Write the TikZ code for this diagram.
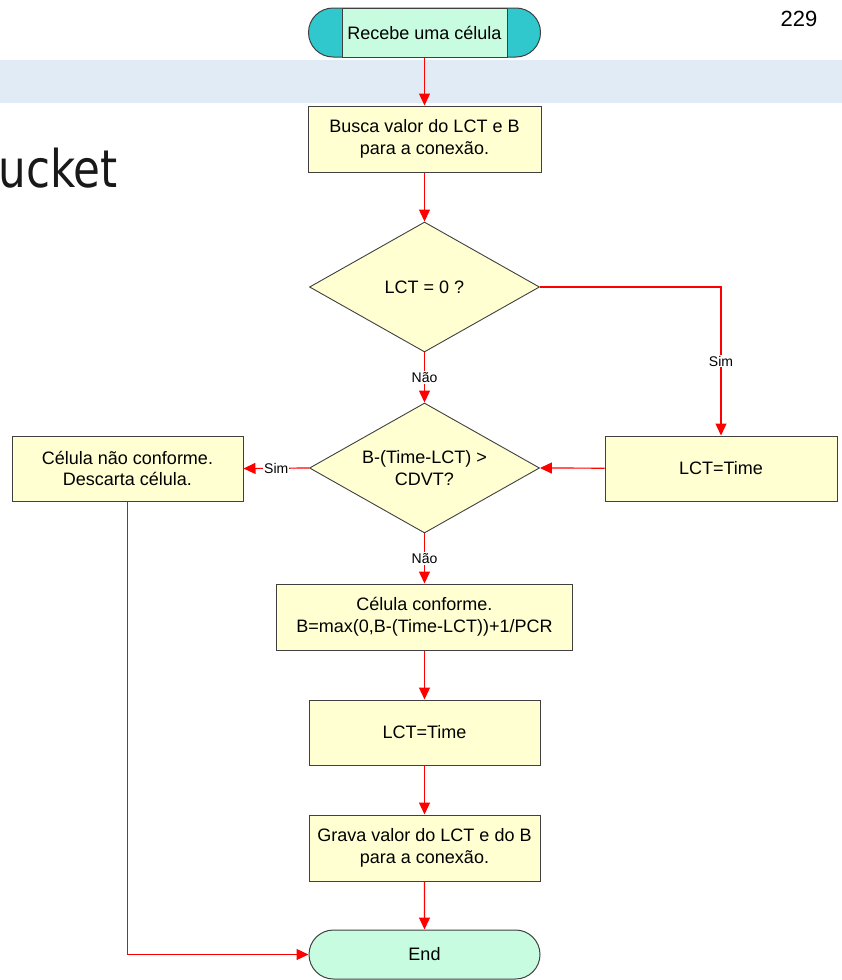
\documentclass[tikz,border=0pt]{standalone}
\usepackage{fontspec}
\setmainfont{Liberation Sans}
\newfontfamily\titlefont{DejaVu Sans}
\usetikzlibrary{shapes.geometric,shapes.misc,arrows.meta}
\definecolor{boxfill}{HTML}{FFFFD2}
\definecolor{bordercol}{HTML}{404040}
\definecolor{capteal}{HTML}{30C8CC}
\definecolor{mint}{HTML}{C8FCE0}
\definecolor{bandcol}{HTML}{E1EBF6}
\definecolor{flow}{HTML}{FF0000}
\begin{document}
\begin{tikzpicture}[x=1pt,y=-1pt,
  every node/.style={font=\fontsize{18}{21.6}\selectfont},
  procbox/.style={rectangle, draw=bordercol, line width=1pt, fill=boxfill, align=center, inner sep=0pt},
  decision/.style={diamond, draw=bordercol, line width=0.9pt, fill=boxfill, inner sep=0pt, minimum width=230pt, minimum height=130pt},
  dtext/.style={align=center, inner sep=0pt},
  terminal/.style={rounded rectangle, draw=bordercol, line width=1pt, inner sep=0pt, minimum height=49pt},
  flowline/.style={draw=flow, line width=1.2pt, -{Triangle[width=11pt,length=12pt]}},
  lbl/.style={fill=white, inner sep=1pt, font=\fontsize{14}{16}\selectfont}
]
\useasboundingbox (0,0) rectangle (842,980);
\fill[bandcol] (0,60) rectangle (842,103);
\node[anchor=base east, inner sep=0pt, font=\titlefont\fontsize{52}{52}\selectfont, text=black!90] (title) at (118,187) {\scalebox{0.84}[1]{ucket}};
\node[anchor=base, inner sep=0pt, font=\fontsize{22}{22}\selectfont] (page) at (799,26) {229};

\node[terminal, fill=capteal, minimum width=232pt] (startcap) at (424.5,32.5) {};
\node[rectangle, draw=bordercol, line width=1pt, fill=mint, minimum width=165pt, minimum height=49pt, inner sep=0pt] (start) at (424.5,32.5) {Recebe uma célula};

\node[procbox, minimum width=233pt, minimum height=66pt] (busca) at (424.5,139) {Busca valor do LCT e B\\para a conexão.};
\node[decision] (d1) at (424.5,287) {};
\node[dtext] (d1t) at (d1.center) {LCT = 0 ?};
\node[decision] (d2) at (424.5,468) {};
\node[dtext] (d2t) at (d2.center) {B-(Time-LCT) >\\CDVT?};
\node[procbox, minimum width=232pt, minimum height=65pt] (lctr) at (721,468.5) {LCT=Time};
\node[procbox, minimum width=231pt, minimum height=65pt] (discard) at (127.5,468.5) {Célula não conforme.\\Descarta célula.};
\node[procbox, minimum width=296pt, minimum height=66pt] (conf) at (424.5,617) {Célula conforme.\\B=max(0,B-(Time-LCT))+1/PCR};
\node[procbox, minimum width=231pt, minimum height=65pt] (lct2) at (424.5,732.5) {LCT=Time};
\node[procbox, minimum width=231pt, minimum height=66pt] (grava) at (424.5,848) {Grava valor do LCT e do B\\para a conexão.};
\node[terminal, fill=mint, minimum width=231pt] (end) at (424.5,954.5) {End};

\draw[flowline] (start) -- (busca);
\draw[flowline] (busca) -- (d1);
\draw[flowline] (d1.east) -| node[lbl,pos=0.75]{Sim} (lctr.north);
\draw[flowline] (d1) -- node[lbl]{Não} (d2);
\draw[flowline] (lctr) -- (d2.east);
\draw[flowline] (d2.west) -- node[lbl]{Sim} (discard.east);
\draw[flowline] (d2) -- node[lbl]{Não} (conf);
\draw[flowline] (conf) -- (lct2);
\draw[flowline] (lct2) -- (grava);
\draw[flowline] (grava) -- (end);
\draw[flowline] (discard.south) |- (end.west);
\end{tikzpicture}
\end{document}
